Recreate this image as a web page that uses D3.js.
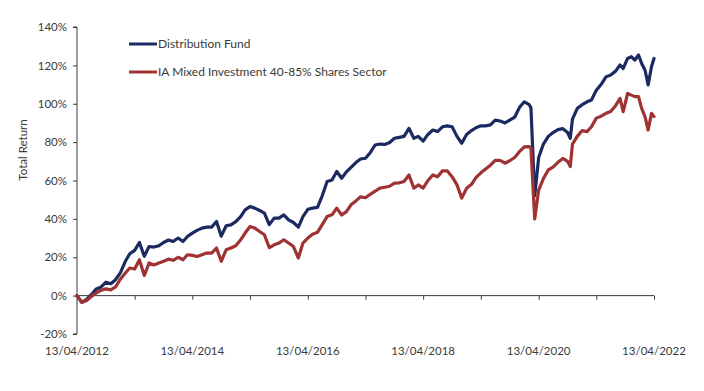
<!DOCTYPE html>
<html><head><meta charset="utf-8">
<script src="https://cdn.jsdelivr.net/npm/d3@7"></script>
<style>
html,body{margin:0;padding:0;background:#fff;}
svg{display:block;font-family:Lato, "Open Sans", sans-serif;}
</style></head>
<body>
<svg id="chart" width="704" height="391"></svg>
<script>
const dates = [
"2012-04-13","2012-05-13","2012-06-13","2012-07-13","2012-08-13","2012-09-13","2012-10-13","2012-11-13","2012-12-13",
"2013-01-13","2013-02-13","2013-03-13","2013-04-13","2013-05-13","2013-06-13","2013-07-13","2013-08-13","2013-09-13","2013-10-13","2013-11-13","2013-12-13",
"2014-01-13","2014-02-13","2014-03-13","2014-04-13","2014-05-13","2014-06-13","2014-07-13","2014-08-13","2014-09-13","2014-10-13","2014-11-13","2014-12-13",
"2015-01-13","2015-02-13","2015-03-13","2015-04-13","2015-05-13","2015-06-13","2015-07-13","2015-08-13","2015-09-13","2015-10-13","2015-11-13","2015-12-13",
"2016-01-13","2016-02-13","2016-03-13","2016-04-13","2016-05-13","2016-06-13","2016-07-13","2016-08-13","2016-09-13","2016-10-13","2016-11-13","2016-12-13",
"2017-01-13","2017-02-13","2017-03-13","2017-04-13","2017-05-13","2017-06-13","2017-07-13","2017-08-13","2017-09-13","2017-10-13","2017-11-13","2017-12-13",
"2018-01-13","2018-02-13","2018-03-13","2018-04-13","2018-05-13","2018-06-13","2018-07-13","2018-08-13","2018-09-13","2018-10-13","2018-11-13","2018-12-13",
"2019-01-13","2019-02-13","2019-03-13","2019-04-13","2019-05-13","2019-06-13","2019-07-13","2019-08-13","2019-09-13","2019-10-13","2019-11-13","2019-12-13",
"2020-01-13","2020-02-13","2020-02-24","2020-03-19","2020-04-13","2020-05-13","2020-06-13","2020-07-13","2020-08-13","2020-09-13","2020-10-13","2020-10-30","2020-11-13","2020-12-13",
"2021-01-13","2021-02-13","2021-03-13","2021-04-13","2021-05-13","2021-06-13","2021-07-13","2021-08-13","2021-09-10","2021-09-30","2021-10-28","2021-11-20","2021-12-13",
"2022-01-05","2022-01-25","2022-02-15","2022-03-07","2022-03-28","2022-04-13"
];
const fund = [
0,-3.5,-2,0.5,3.5,4.5,7,6.2,8.3,
12,17.9,21.8,23.6,27.7,20.5,25.6,25.3,26,27.7,29,28.2,
30,28.2,30.8,32.6,34,35.2,35.7,35.7,38.6,31,36.4,36.9,
38.6,41.2,44.7,46.4,45.6,44.4,43,37,40.4,40.4,42.1,39.5,
38.1,35.7,41.2,45,45.6,46,52,59.5,60.3,64.7,61.2,64.5,
67,69.5,71.2,71.6,74.5,78.5,79,78.8,79.8,82,82.5,83,
87.2,82,83,80.5,84,86.3,85.5,88,88.5,88,83,79.4,
84,86,87.5,88.5,88.5,89,91.5,91,90,91.5,93,98,
101,99.5,98,52,72,79,83,85,86.5,87,85,82,92,97.5,
99.5,101,102,107,110,114,115,117,120.2,118.4,123.6,124.5,122.8,
125.4,121,117.6,109.8,119.3,123.6
];
const sector = [
0,-3.5,-2.5,-0.5,1.4,2.8,3.5,3,4.5,
8.7,11.8,14.4,13.9,18.7,10.5,17,16,17,17.9,19,18.4,
20,18.7,21.3,21,20.4,21.3,22.2,22.2,24.8,17.9,23.9,24.8,
26,29.1,32.6,36,35.2,33.4,31.7,25,26.5,27.4,29.1,27.4,
25.6,19.6,27.4,30,32,33,37,41.2,42.1,45.6,42,43.8,
47.5,49.5,51.5,51,52.8,54.5,56,56.5,57,58.6,58.8,59.5,
62.9,56,57.7,56,60,62.9,62,65,65,62,57.7,50.8,
56,58,61.5,64,66,68,70.5,70.5,69,70.3,72,75,
77.5,77.7,77,40,55,61,65.5,67,69.5,71.5,70,67.3,79,83,
86,85.5,88,92.5,93.5,95,96,99,102.8,95.9,105.4,104.5,103.7,
103.7,97.6,93.3,86.3,95,93.3
];
const seriesNames = ["Distribution Fund","IA Mixed Investment 40-85% Shares Sector"];
const seriesColors = ["#1c2a62","#9f3232"];
const yTicks = [-20,0,20,40,60,80,100,120,140];
const xLabelDates = ["2012-04-13","2014-04-13","2016-04-13","2018-04-13","2020-04-13","2022-04-13"];
const yTitle = "Total Return";

const parse = d3.timeParse("%Y-%m-%d");
const fmt = d3.timeFormat("%d/%m/%Y");
const svg = d3.select("#chart");
const x = d3.scaleTime().domain([parse("2012-04-13"), parse("2022-04-13")]).range([77, 654]);
const y = d3.scaleLinear().domain([-20, 140]).range([334, 27]);
const textColor = "#3a3a3a";
const axisColor = "#3a3a3a";

// Y axis
const yAxis = d3.axisLeft(y).tickValues(yTicks).tickSize(4).tickPadding(6).tickFormat(d => d + "%");
const gy = svg.append("g").attr("transform", "translate(77,0)").call(yAxis);
gy.select(".domain").attr("stroke", axisColor).attr("d", `M-4,${y(140)}H0V${y(-20)}H-4`);
gy.selectAll(".tick line").attr("stroke", axisColor);
gy.selectAll(".tick text").attr("fill", textColor).style("font-size", "11.5px").style("font-family", "Lato");

// X axis at 0%
const tickDates = d3.range(0, 11).map(i => d3.timeYear.offset(parse("2012-04-13"), i));
const xAxis = d3.axisBottom(x).tickValues(tickDates).tickSize(4).tickFormat("");
const gx = svg.append("g").attr("transform", `translate(0,${y(0)})`).call(xAxis);
gx.select(".domain").attr("stroke", axisColor).attr("d", `M${x.range()[0]},0H${x.range()[1]}`);
gx.selectAll(".tick line").attr("stroke", axisColor);
gx.selectAll(".tick").filter(d => +d === +x.domain()[0]).remove();

// X labels below
svg.append("g").selectAll("text").data(xLabelDates.map(parse)).join("text")
  .attr("x", d => x(d)).attr("y", 355)
  .attr("text-anchor", "middle").attr("fill", textColor)
  .style("font-size", "11.5px").text(d => fmt(d));

// Y title
svg.append("text").attr("transform", "translate(27,150) rotate(-90)")
  .attr("text-anchor", "middle").attr("fill", textColor).style("font-size", "11.5px").text(yTitle);

// Lines
const pts = s => dates.map((d, i) => ({d: parse(d), v: s[i]}));
const line = d3.line().x(p => x(p.d)).y(p => y(p.v));
[fund, sector].forEach((s, i) => {
  svg.append("path").datum(pts(s)).attr("fill", "none")
    .attr("stroke", seriesColors[i]).attr("stroke-width", 3.2)
    .attr("stroke-linejoin", "round").attr("stroke-linecap", "round")
    .attr("d", line);
});

// Legend
const leg = svg.append("g");
seriesNames.forEach((n, i) => {
  const ly = 44 + i * 28;
  leg.append("line").attr("x1", 129).attr("x2", 157).attr("y1", ly).attr("y2", ly)
    .attr("stroke", seriesColors[i]).attr("stroke-width", 3);
  leg.append("text").attr("x", 158).attr("y", ly + 4).attr("fill", textColor)
    .style("font-size", "12px").text(n);
});
</script>
</body></html>
